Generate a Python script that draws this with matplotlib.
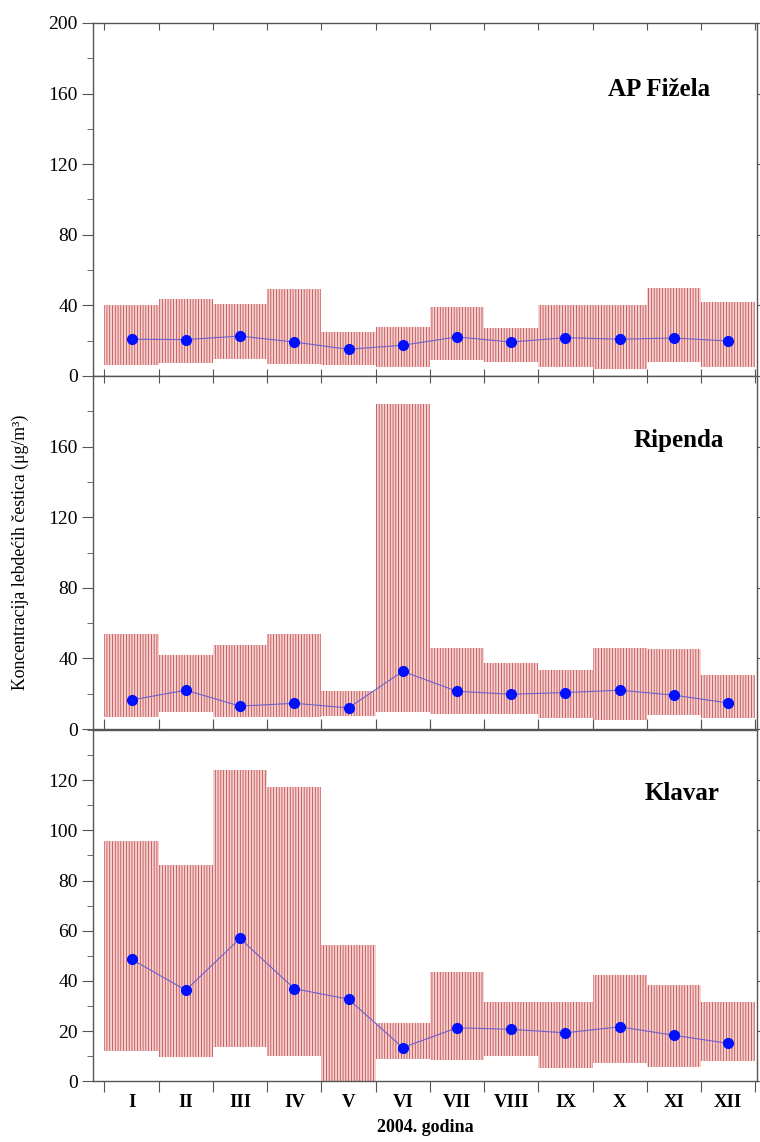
import matplotlib.pyplot as plt
import numpy as np
from matplotlib.ticker import MultipleLocator, FixedLocator

plt.rcParams['font.family'] = ['Liberation Serif', 'DejaVu Serif']
plt.rcParams['hatch.linewidth'] = 0.5

months = ['I', 'II', 'III', 'IV', 'V', 'VI', 'VII', 'VIII', 'IX', 'X', 'XI', 'XII']

# AP Fizela
fiz_min = [6.0, 7.5, 9.8, 7.0, 6.0, 5.3, 9.1, 7.9, 5.3, 4.1, 7.9, 5.3]
fiz_max = [40.0, 43.4, 40.9, 49.4, 24.9, 27.9, 39.0, 27.3, 40.2, 40.0, 50.0, 42.0]
fiz_mean = [20.8, 20.6, 22.6, 19.2, 15.1, 17.4, 22.1, 19.2, 21.7, 20.8, 21.5, 19.8]

# Ripenda
rip_min = [6.6, 9.8, 6.6, 6.9, 7.5, 9.8, 8.8, 8.3, 6.4, 5.1, 7.9, 6.0]
rip_max = [54.1, 41.7, 47.9, 53.9, 21.4, 184.4, 46.2, 37.6, 33.2, 46.2, 45.1, 30.4]
rip_mean = [16.5, 22.0, 13.0, 14.6, 12.0, 32.7, 21.4, 19.7, 20.7, 22.0, 19.2, 14.8]

# Klavar
kla_min = [12.2, 9.5, 13.8, 10.1, 0.0, 8.9, 8.5, 10.2, 5.2, 7.4, 5.8, 8.1]
kla_max = [95.6, 86.1, 124.0, 117.3, 54.2, 23.3, 43.6, 31.6, 31.6, 42.5, 38.5, 31.5]
kla_mean = [48.6, 36.3, 56.9, 36.9, 32.7, 13.4, 21.3, 20.7, 19.3, 21.7, 18.3, 15.1]

stations = ['AP Fižela', 'Ripenda', 'Klavar']
mins = [fiz_min, rip_min, kla_min]
maxs = [fiz_max, rip_max, kla_max]
means = [fiz_mean, rip_mean, kla_mean]

fig = plt.figure(figsize=(7.6, 11.42), dpi=100)
boxes = [[0.1224, 0.6708, 0.8736, 0.3091],
         [0.1224, 0.3616, 0.8736, 0.3091],
         [0.1224, 0.0532, 0.8736, 0.3076]]
ylims = [200, 200, 140]
majors = [40, 40, 20]
minors = [20, 20, 10]
label_pos = [(659, 89), (679, 440), (682, 793)]

x = np.arange(1, 13)
gray = '#555555'
for i in range(3):
    ax = fig.add_axes(boxes[i])
    lo = np.array(mins[i])
    hi = np.array(maxs[i])
    ax.bar(x, hi - lo, bottom=lo, width=1.0, color='#f0d2d2',
           edgecolor='#c83030', linewidth=0, hatch='||||||')
    ax.plot(x, means[i], '-', color='#7060d0', lw=0.8, zorder=3)
    ax.plot(x, means[i], 'o', color='#0010ff', ms=7, zorder=4)
    ax.set_xlim(0.29, 12.53)
    ax.set_ylim(0, ylims[i])
    top_lab = ylims[i] if i == 0 else ylims[i] - majors[i]
    ax.yaxis.set_major_locator(FixedLocator(np.arange(0, top_lab + 1, majors[i])))
    ax.yaxis.set_minor_locator(MultipleLocator(minors[i]))
    ax.xaxis.set_major_locator(FixedLocator(np.arange(0.5, 13, 1.0)))
    ax.xaxis.set_minor_locator(FixedLocator(x))
    for s in ax.spines.values():
        s.set_color(gray)
        s.set_linewidth(1.0)
    ax.tick_params(axis='y', which='major', direction='out', length=8, color=gray,
                   labelsize=14, pad=3, right=True)
    ax.tick_params(axis='y', which='minor', direction='out', length=4, color=gray)
    if i == 2:
        ax.tick_params(axis='x', which='major', direction='out', length=8, color=gray,
                       top=True, labelbottom=False)
        ax.tick_params(axis='x', which='minor', length=0, labelsize=13.5, pad=9)
        ax.set_xticks(x, months, minor=True)
        for t in ax.get_xticklabels(minor=True):
            t.set_fontweight('bold')
    else:
        ax.tick_params(axis='x', which='major', direction='in', length=5, color=gray,
                       top=True, labelbottom=False)
        ax.tick_params(axis='x', which='minor', length=0, labelbottom=False)
    fig.text(label_pos[i][0] / 760, 1 - label_pos[i][1] / 1142, stations[i],
             ha='center', va='center', fontsize=18, fontweight='bold')

fig.text(20 / 760, 1 - 552 / 1142, 'Koncentracija lebdećih čestica (μg/m³)',
         rotation=90, ha='center', va='center', fontsize=12.8)
fig.text(425 / 760, 1 - 1128 / 1142, '2004. godina', ha='center', va='center',
         fontsize=13, fontweight='bold')

fig.savefig('out.png', dpi=100)
